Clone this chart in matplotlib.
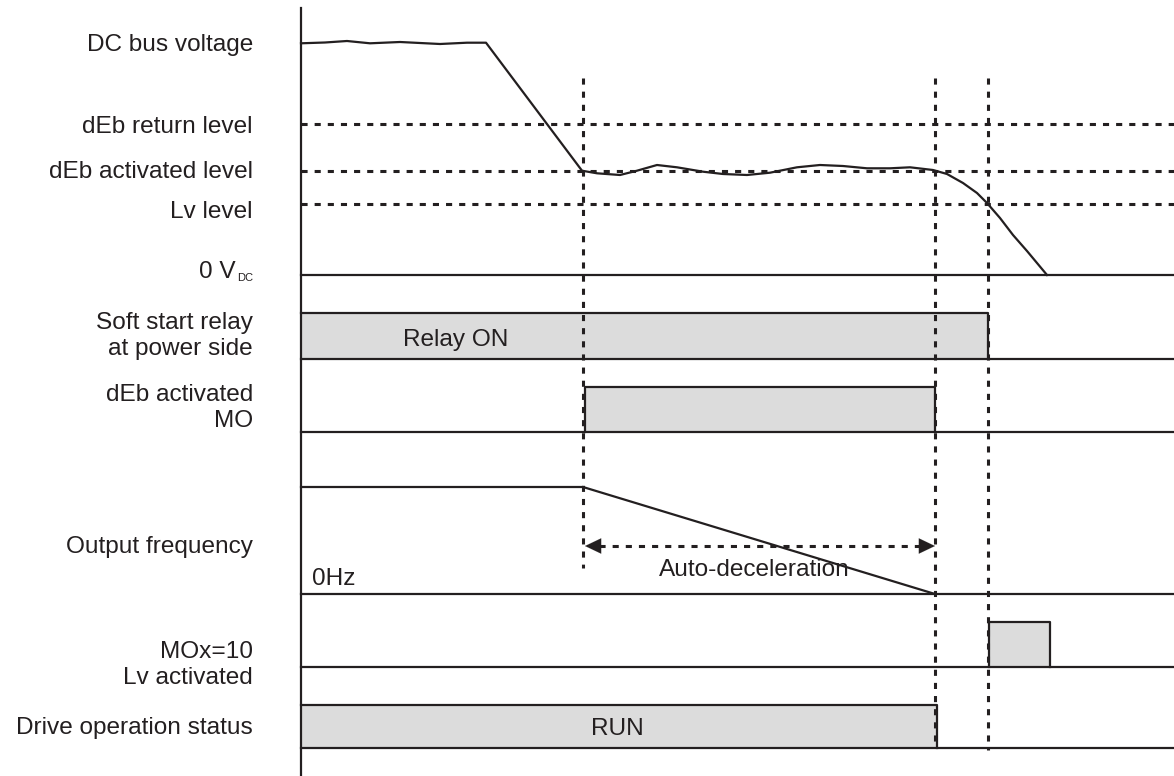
import matplotlib.pyplot as plt
import numpy as np

plt.rcParams['font.family'] = ['Liberation Sans', 'DejaVu Sans']

# time events (x positions on the shared time axis)
t_start = 301
t_end = 1174
t_deb = 583        # dEb activated
t_stop = 935       # output frequency reaches 0 Hz
t_lv = 988         # Lv reached / relay off
t_lv_off = 1050    # MOx=10 pulse end

# voltage levels (y)
lvl_return = 124
lvl_deb = 171
lvl_lv = 204
lvl_zero = 275

# DC bus voltage trace
bus_x = [301, 325, 347, 370, 400, 440, 467, 486, 582, 597, 620, 637, 657, 677, 703, 723, 747, 770,
         797, 820, 843, 867, 890, 910, 933, 947, 963, 977, 987, 1000, 1013, 1027, 1037, 1047]
bus_y = [43.3, 42.5, 41, 43.3, 42, 44, 42.7, 42.7, 170.7, 173.3, 175, 170.7, 165, 167.3, 171.7, 174,
         175, 172.7, 167.3, 165, 166, 168.3, 168.3, 167.3, 170, 174, 183, 193, 203, 218, 235, 251,
         263, 275]

# output frequency trace
freq_x = [301, t_deb, t_stop]
freq_y = [487, 487, 594]

# digital rows: (top, baseline)
relay_row = (313, 359)
mo_row = (387, 432)
mox_row = (622, 667)
run_row = (705, 748)

labels = [
    ("DC bus voltage", 45),
    ("dEb return level", 127),
    ("dEb activated level", 172),
    ("Lv level", 212),
    ("Soft start relay\nat power side", 336),
    ("dEb activated\nMO", 408),
    ("Output frequency", 547),
    ("MOx=10\nLv activated", 665),
    ("Drive operation status", 728),
]

ink = '#231f20'
fill = '#dcdcdc'
lw = 1.6
fs = 17.6
dash = (0, (2, 2.3))

fig = plt.figure(figsize=(11.74, 7.76), dpi=100)
ax = fig.add_axes([0, 0, 1, 1])
ax.set_xlim(0, 1174)
ax.set_ylim(776, 0)
ax.axis('off')

# vertical time axis
ax.plot([t_start, t_start], [8, 776], color=ink, lw=lw)

# dashed level lines
for lv in [lvl_return, lvl_deb, lvl_lv]:
    ax.plot([t_start, t_end], [lv, lv], color=ink, lw=2.2, linestyle=dash)

# 0 V line
ax.plot([t_start, t_end], [lvl_zero, lvl_zero], color=ink, lw=lw)

# bus voltage
ax.plot(bus_x, bus_y, color=ink, lw=lw, solid_joinstyle='round')

# relay row
ax.fill_between([t_start, t_lv], relay_row[0], relay_row[1], color=fill, lw=0)
ax.plot([t_start, t_lv, t_lv], [relay_row[0], relay_row[0], relay_row[1]], color=ink, lw=lw)
ax.plot([t_start, t_end], [relay_row[1], relay_row[1]], color=ink, lw=lw)
ax.text(403, 340, "Relay ON", fontsize=fs, color=ink, va='center', ha='left')

# dEb MO row
ax.fill_between([t_deb + 2, t_stop], mo_row[0], mo_row[1], color=fill, lw=0)
ax.plot([t_deb + 2, t_deb + 2, t_stop, t_stop], [mo_row[1], mo_row[0], mo_row[0], mo_row[1]],
        color=ink, lw=lw)
ax.plot([t_start, t_end], [mo_row[1], mo_row[1]], color=ink, lw=lw)

# output frequency
ax.plot(freq_x, freq_y, color=ink, lw=lw)
ax.plot([t_start, t_end], [594, 594], color=ink, lw=lw)
ax.text(312, 579, "0Hz", fontsize=fs, color=ink, va='center', ha='left')

# auto-deceleration arrow
arr_y = 546
ax.plot([t_deb + 16, t_stop - 16], [arr_y, arr_y], color=ink, lw=2.2, linestyle=dash)
for tip, tail in [(t_deb + 2, t_deb + 22), (t_stop, t_stop - 20)]:
    ax.annotate('', xy=(tip, arr_y), xytext=(tail, arr_y),
                arrowprops=dict(arrowstyle='-|>,head_length=1.15,head_width=0.55',
                                mutation_scale=10, color=ink, lw=0.1,
                                shrinkA=0, shrinkB=0))
ax.text(754, 570, "Auto-deceleration", fontsize=fs, color=ink, va='center', ha='center')

# MOx=10 row
ax.fill_between([t_lv + 1, t_lv_off], mox_row[0], mox_row[1], color=fill, lw=0)
ax.plot([t_lv + 1, t_lv + 1, t_lv_off, t_lv_off], [mox_row[1], mox_row[0], mox_row[0], mox_row[1]],
        color=ink, lw=lw)
ax.plot([t_start, t_end], [mox_row[1], mox_row[1]], color=ink, lw=lw)

# drive run row
ax.fill_between([t_start, t_stop + 2], run_row[0], run_row[1], color=fill, lw=0)
ax.plot([t_start, t_stop + 2, t_stop + 2], [run_row[0], run_row[0], run_row[1]], color=ink, lw=lw)
ax.plot([t_start, t_end], [run_row[1], run_row[1]], color=ink, lw=lw)
ax.text(591, 729, "RUN", fontsize=fs, color=ink, va='center', ha='left')

# vertical event markers
ax.plot([t_deb, t_deb], [78, 568], color=ink, lw=2.2, linestyle=dash)
ax.plot([t_stop, t_stop], [78, 745], color=ink, lw=2.2, linestyle=dash)
ax.plot([t_lv, t_lv], [78, 750], color=ink, lw=2.2, linestyle=dash)

# row labels
for txt, y in labels:
    ax.text(253, y, txt, fontsize=fs, color=ink, ha='right', va='center',
            multialignment='right', linespacing=1.2)
ax.text(236, 272, "0 V", fontsize=fs, color=ink, ha='right', va='center')
ax.text(237, 278, "DC", fontsize=8, color=ink, ha='left', va='center')

fig.savefig('out.png', dpi=100)
